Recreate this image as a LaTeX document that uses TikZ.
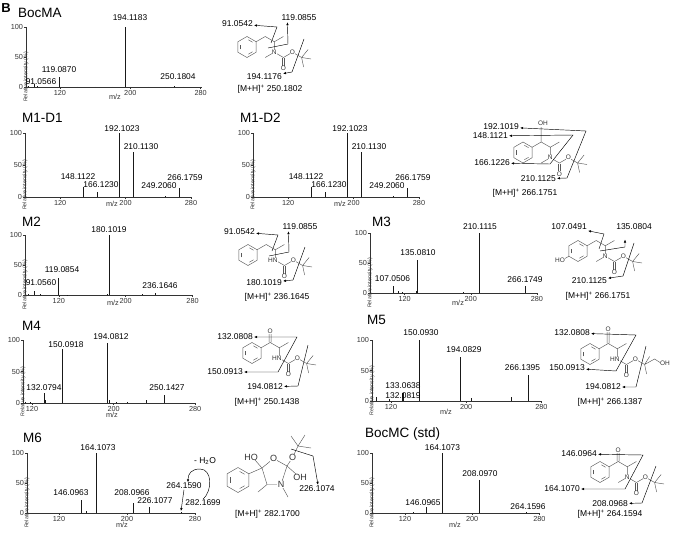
\documentclass[tikz,border=0pt]{standalone}
\usepackage{fontspec}
\setmainfont{Liberation Sans}
\usetikzlibrary{arrows.meta,calc,positioning}
\newcommand{\fsPeak}{\fontsize{8.4}{9}\selectfont}
\newcommand{\fsTick}{\fontsize{7.3}{8}\selectfont}
\newcommand{\fsTitle}{\fontsize{13.5}{14}\selectfont}
\newcommand{\fsAtom}{\fontsize{6.5}{7}\selectfont}
\newcommand{\fsBig}{\fontsize{9}{10}\selectfont}
\newcommand{\fsY}{\fontsize{5.3}{6}\selectfont}
\newcommand{\fsFrag}{\fontsize{8.5}{9}\selectfont}
\tikzset{>={Latex[length=3pt,width=2.4pt]}}
\tikzset{axis/.style={line width=.5pt,black!80},
         peak/.style={line width=.9pt,black!90},
         plbl/.style={font=\fsPeak,inner sep=.5pt},
         ticklbl/.style={font=\fsTick,inner sep=1pt,text=black!80},
         ttl/.style={font=\fsTitle,anchor=west,inner sep=0pt},
         ylbl/.style={font=\fsY,rotate=90,inner sep=0pt,text=black!80},
         bond/.style={line width=.45pt,black!65},
         atom/.style={font=\fsAtom,fill=white,inner sep=.3pt,text=black!80},
         frag/.style={line width=.45pt},
         flbl/.style={font=\fsFrag,inner sep=1pt},
         panel/.style n args={4}{shift={(#1,#2)},x=#3pt,y=#4pt},
         benz/.pic={
           \draw[bond] (30:10.5) -- (90:10.5) -- (150:10.5) -- (210:10.5)
             -- (270:10.5) -- (330:10.5) -- cycle;
           \foreach \a in {30,150,270}
             \draw[bond] ($(\a:8)!.2!(\a+60:8)$) -- ($(\a:8)!.8!(\a+60:8)$);
         },
         carbamate/.pic={
           \draw[bond] (0,0) -- (9.1,5.25) -- (18.2,0) -- (27.3,5.25);
           \draw[bond] (8.1,5.8) -- (8.1,13.8) (10.1,5.8) -- (10.1,13.8);
           \node[atom] (-oc) at (9.1,16.3) {O};
           \node[atom] (-oe) at (18.2,0) {O};
         },
         tbu/.pic={
           \draw[bond] (0,0) -- (6.5,-8) (0,0) -- (9.5,1.5) (0,0) -- (2,9.5);
         }
}
% axes of one spectrum: #1 m/z of the y axis, #2 m/z of the "m/z" text, #3 its drop
\newcommand{\specaxes}[3]{%
  \draw[axis] (#1,100) -- (#1,0) -- (281,0);
  \foreach \t in {0,50,100}
    \draw[axis] (#1,\t) -- ++(-1.8pt,0pt) node[ticklbl,left] (y\t) {\t};
  \foreach \m in {120,200,280}
    \draw[axis] (\m,0) -- ++(0pt,-2pt) node[ticklbl,below] (x\m) {\m};
  \foreach \m in {140,160,180,220,240,260}
    \draw[axis] (\m,0) -- ++(0pt,-1.2pt);
  \node[ylbl,xshift=-20pt] (ylab) at (#1,50) {Relative intensity (\%)};
  \node[ticklbl,yshift=-#3pt] (mz) at (#2,0) {m/z};
}

\begin{document}
\begin{tikzpicture}[x=1pt,y=-1pt]
\useasboundingbox (0,0) rectangle (676,532);

% ---------- spectra ----------
\node[font=\bfseries\fontsize{13}{14}\selectfont,inner sep=0pt] (B) at (6,8) {B};
\node[ttl] (tA) at (18,13) {BocMA};
\begin{scope}[panel={-45.7}{87}{.88}{.6},name prefix=sA-]
  \specaxes{81.5}{182.6}{10}
  \foreach \m/\h in {84/1,91.06/5,95/1,119.09/17,194.12/100,250.18/2}
    \draw[peak] (\m,0) -- (\m,\h);
\end{scope}
\node[plbl] (pA194) at (130,18) {194.1183};
\node[plbl] (pA119) at (59,70) {119.0870};
\node[plbl] (pA91) at (41,82) {91.0566};
\node[plbl] (pA250) at (178,77) {250.1804};

\foreach \dx/\nm/\tx in {0/M1-D1/22,228/M1-D2/12}{
  \begin{scope}[xshift=\dx pt]
    \node[ttl] (t\nm) at (\tx,118) {\nm};
    \begin{scope}[panel={-38.06}{197}{.818}{.64},name prefix=s\nm-]
      \specaxes{77.1}{183.4}{7}
      \foreach \m/\h in {148.11/16,166.12/8,192.10/100,210.11/70,249.21/2,266.18/14}
        \draw[peak] (\m,0) -- (\m,\h);
    \end{scope}
    \node[plbl] (p\nm-192) at (122,129) {192.1023};
    \node[plbl] (p\nm-210) at (141,147) {210.1130};
    \node[plbl] (p\nm-148) at (78,177) {148.1122};
    \node[plbl] (p\nm-166) at (101,185) {166.1230};
    \node[plbl] (p\nm-249) at (159,186) {249.2060};
    \node[plbl] (p\nm-266) at (185,178) {266.1759};
  \end{scope}
}

\node[ttl] (tM2) at (22,222) {M2};
\begin{scope}[panel={-41.52}{295}{.836}{.6},name prefix=sM2-]
  \specaxes{79.6}{184.8}{8}
  \foreach \m/\h in {84/1,91.06/6,97.6/1.5,119.09/28,130/.8,177.6/1.5,180.10/100,219.5/1.5,236.16/3}
    \draw[peak] (\m,0) -- (\m,\h);
\end{scope}
\node[plbl] (pB180) at (109,230) {180.1019};
\node[plbl] (pB119) at (62,270) {119.0854};
\node[plbl] (pB91) at (41,283) {91.0560};
\node[plbl] (pB236) at (160,286) {236.1646};

\node[ttl] (tM3) at (372,222) {M3};
\begin{scope}[panel={305.36}{293}{.827}{.6},name prefix=sM3-]
  \specaxes{78.2}{184.6}{10}
  \foreach \m/\h in {107.05/12,113/3,117/1.5,135.08/55,134/3,191.7/1.5,210.11/100,266.17/11}
    \draw[peak] (\m,0) -- (\m,\h);
\end{scope}
\node[plbl] (pC210) at (480,227) {210.1115};
\node[plbl] (pC135) at (418,253) {135.0810};
\node[plbl] (pC107) at (392.5,279) {107.0506};
\node[plbl] (pC266) at (525,280) {266.1749};

\node[ttl] (tM4) at (22,326) {M4};
\begin{scope}[panel={-90.4}{403}{1.02}{.63},name prefix=sM4-]
  \specaxes{111.2}{198.4}{12}
  \foreach \m/\h in {114/2,118/1,132.08/16,133.5/5,150.09/85,194.08/95,195.5/4,203/2,214/1.5,232.5/5,250.14/13}
    \draw[peak] (\m,0) -- (\m,\h);
\end{scope}
\node[plbl] (pD194) at (111,337) {194.0812};
\node[plbl] (pD150) at (66,345) {150.0918};
\node[plbl] (pD132) at (44,388) {132.0794};
\node[plbl] (pD250) at (167,388) {250.1427};

\node[ttl] (tM5) at (367,320) {M5};
\begin{scope}[panel={278.2}{401}{.94}{.61},name prefix=sM5-]
  \specaxes{99.8}{178.5}{11}
  \foreach \m/\h in {104/6,118/4,150.09/100,194.08/72,206/5,248/7}
    \draw[peak] (\m,0) -- (\m,\h);
  \draw[peak,line width=1.6pt] (132.5,0) -- (132.5,13);
  \draw[peak,line width=1.4pt] (266.1,0) -- (266.1,43);
\end{scope}
\node[plbl] (pE150) at (421,333) {150.0930};
\node[plbl] (pE194) at (464,350) {194.0829};
\node[plbl] (pE266) at (522.5,368) {266.1395};
\node[plbl] (pE133) at (403,386) {133.0638};
\node[plbl] (pE132) at (403,396) {132.0819};

\node[ttl] (tM6) at (23,438) {M6};
\begin{scope}[panel={-43}{513}{.85}{.6},name prefix=sM6-]
  \specaxes{82.4}{194}{12}
  \foreach \m/\h in {146.10/22,152/3,164.11/100,208.10/17,226.11/10,264.16/2}
    \draw[peak] (\m,0) -- (\m,\h);
\end{scope}
\node[plbl] (pF164) at (98,448) {164.1073};
\node[plbl] (pF146) at (71,493) {146.0963};
\node[plbl] (pF208) at (132,493) {208.0966};
\node[plbl] (pF226) at (155,501) {226.1077};
\node[plbl] (pF264) at (184,486) {264.1590};
\node[plbl] (pF282) at (203,503) {282.1699};
\node[flbl] (pFh2o) at (205,461) {- H\textsubscript{2}O};
\coordinate (pF264t) at (181,511);
\draw[frag,->] (pF264.south) -- (pF264t);
\draw[frag,->] (pF282.north) .. controls (213,490) and (212,469) .. (200,469)
  .. controls (191,469) and (188,474) .. ([xshift=4pt]pF264.north);

\node[ttl] (tG) at (365,434) {BocMC (std)};
\begin{scope}[panel={304.2}{513}{.84}{.6},name prefix=sG-]
  \specaxes{80.7}{179.5}{12}
  \foreach \m/\h in {130/1,146.10/10,164.11/100,208.10/55,264.16/1.5}
    \draw[peak] (\m,0) -- (\m,\h);
\end{scope}
\node[plbl] (pG164) at (442.5,448) {164.1073};
\node[plbl] (pG208) at (480,474) {208.0970};
\node[plbl] (pG146) at (423,503) {146.0965};
\node[plbl] (pG264) at (528,507) {264.1596};

% ---------- structures ----------
% BocMA
\pic (a-ring) at (247,47) {benz};
\draw[bond] (256.1,41.75) -- (265.2,36.5) -- (274.3,41.75) -- (283.4,36.5)
  (274.3,41.75) -- (274.3,52.25) -- (265.2,57.5);
\pic (a-boc) at (274.3,52.25) {carbamate};
\pic (a-tbu) at (301.6,57.5) {tbu};
\node[atom] (a-n) at (274.3,52.25) {N};
\node[flbl,anchor=east] (a-f91) at (254,24) {91.0542};
\node[flbl] (a-f119) at (299,18) {119.0855};
\node[flbl,anchor=east] (a-f194) at (283,77) {194.1176};
\node[flbl] (a-mh) at (270,89) {[M+H]\textsuperscript{+} 250.1802};
\draw[frag,->] (271,43) -- (277,27) -- (a-f91);
\draw[frag,->] (268,48) -- (288,44) -- ([xshift=7pt]a-f119.south west);
\draw[frag,->] (304,39) -- (292,72) -- (a-f194);

% M1-D2
\pic (h-ring) at (523,152.5) {benz};
\draw[bond] (532.1,147.25) -- (541.2,142) -- (550.3,147.25) -- (559.4,142)
  (541.2,142) -- (541.2,127) (550.3,147.25) -- (550.3,157.75) -- (541.2,163);
\pic (h-boc) at (550.3,157.75) {carbamate};
\pic (h-tbu) at (577.6,163) {tbu};
\node[atom] (h-n) at (550.3,157.75) {N};
\node[atom] (h-oh) at (543,123.5) {OH};
\node[flbl,anchor=east] (h-f192) at (520,127) {192.1019};
\node[flbl,anchor=east] (h-f148) at (509,136) {148.1121};
\node[flbl,anchor=east] (h-f166) at (511,163) {166.1226};
\node[flbl,anchor=east] (h-f210) at (557,179) {210.1125};
\node[flbl] (h-mh) at (525,193) {[M+H]\textsuperscript{+} 266.1751};
\draw[frag,<->] (h-f192) -- (586,131) -- (567,178) -- (h-f210);
\draw[frag,<->] (h-f148) -- (573,135) -- (550,164) -- (h-f166);

% M2
\pic (b-ring) at (248,255) {benz};
\draw[bond] (257.1,249.75) -- (266.2,244.5) -- (275.3,249.75) -- (284.4,244.5)
  (275.3,249.75) -- (275.3,260.25);
\pic (b-boc) at (275.3,260.25) {carbamate};
\pic (b-tbu) at (302.6,265.5) {tbu};
\node[atom] (b-n) at (272.8,260.25) {HN};
\node[flbl,anchor=east] (b-f91) at (256,232) {91.0542};
\node[flbl] (b-f119) at (300,227) {119.0855};
\node[flbl,anchor=east] (b-f180) at (283,283) {180.1019};
\node[flbl] (b-mh) at (277,297) {[M+H]\textsuperscript{+} 236.1645};
\draw[frag,->] (272,251) -- (278,235) -- (b-f91);
\draw[frag,->] (269,256) -- (289,252) -- ([xshift=7pt]b-f119.south west);
\draw[frag,->] (305,247) -- (293,280) -- (b-f180);

% M3
\pic (c-ring) at (578,251) {benz};
\draw[bond] (587.1,245.75) -- (596.2,240.5) -- (605.3,245.75) -- (614.4,240.5)
  (605.3,245.75) -- (605.3,256.25) -- (596.2,261.5) (568.9,256.25) -- (564,259);
\pic (c-boc) at (605.3,256.25) {carbamate};
\pic (c-tbu) at (632.6,261.5) {tbu};
\node[atom] (c-n) at (605.3,256.25) {N};
\node[atom] (c-ho) at (560,260.5) {HO};
\node[flbl,anchor=east] (c-f107) at (588,227) {107.0491};
\node[flbl] (c-f135) at (634,227) {135.0804};
\coordinate (c-t135) at (625,239.5);
\node[flbl,anchor=east] (c-f210) at (608,281) {210.1125};
\node[flbl] (c-mh) at (598,296) {[M+H]\textsuperscript{+} 266.1751};
\draw[frag,->] (599,249) -- (604,234) -- (c-f107);
\draw[frag,->] (600,251) -- (625,247) -- (c-t135);
\draw[frag,->] (634,243) -- (623,276) -- (c-f210);

% M4
\pic (d-ring) at (252,353) {benz};
\draw[bond] (261.1,347.75) -- (270.2,342.5) -- (279.3,347.75) -- (288.4,342.5)
  (279.3,347.75) -- (279.3,358.25)
  (269.2,342) -- (269.2,334) (271.2,342) -- (271.2,334);
\pic (d-boc) at (279.3,358.25) {carbamate};
\pic (d-tbu) at (306.6,363.5) {tbu};
\node[atom] (d-o) at (270.2,331) {O};
\node[atom] (d-n) at (276.8,358.25) {HN};
\node[flbl,anchor=east] (d-f132) at (254,337) {132.0808};
\node[flbl,anchor=east] (d-f150) at (244,372) {150.0913};
\node[flbl,anchor=east] (d-f194) at (284,387) {194.0812};
\node[flbl] (d-mh) at (267,402) {[M+H]\textsuperscript{+} 250.1438};
\draw[frag,<->] (d-f132) -- (297,337) -- (278,372) -- (d-f150);
\draw[frag,->] (308,345) -- (298,386) -- (d-f194);

% M5
\pic (e-ring) at (590,354) {benz};
\draw[bond] (599.1,348.75) -- (608.2,343.5) -- (617.3,348.75) -- (626.4,343.5)
  (617.3,348.75) -- (617.3,359.25)
  (607.2,343) -- (607.2,332) (609.2,343) -- (609.2,332);
\pic (e-boc) at (617.3,359.25) {carbamate};
\draw[bond] (644.6,364.5) -- (649.6,356.5) (644.6,364.5) -- (646.6,374)
  (644.6,364.5) -- (654.6,359) -- (660,362.5);
\node[atom] (e-o) at (608.2,329) {O};
\node[atom] (e-n) at (614.8,359.25) {HN};
\node[atom] (e-oh) at (665,363.5) {OH};
\node[flbl,anchor=east] (e-f132) at (591,333) {132.0808};
\node[flbl,anchor=east] (e-f150) at (586,368) {150.0913};
\node[flbl,anchor=east] (e-f194) at (622,387) {194.0812};
\node[flbl] (e-mh) at (610,402) {[M+H]\textsuperscript{+} 266.1387};
\draw[frag,<->] (e-f132) -- (636,335) -- (616,371) -- (e-f150);
\draw[frag,->] (646,346) -- (636,387) -- (e-f194);

% M6
\pic[scale=1.19] (f-ring) at (238,480) {benz};
\draw[bond] (248.8,473.75) -- (262,468);
\draw[bond] (262,468) -- (273.5,458.5) -- (287,466) -- (281,484.5) -- (267,484.5) -- cycle;
\draw[bond] (262,468) -- (255,460) (267,484.5) -- (258,492) (281,484.5) -- (288,497)
  (287,466) -- (296,474) (287,466) -- (292.5,457.5) -- (298,446)
  (298,446) -- (291,436) (298,446) -- (305,435) (298,446) -- (311,448);
\node[atom,font=\fsBig] (f-ho) at (251,457) {HO};
\node[atom,font=\fsBig] (f-o1) at (273.5,458.5) {O};
\node[atom,font=\fsBig] (f-n3) at (281,484.5) {N};
\node[atom,font=\fsBig] (f-o2) at (292.5,457.5) {O};
\node[atom,font=\fsBig] (f-oh) at (300,477) {OH};
\node[flbl] (f-f226) at (317,489) {226.1074};
\node[flbl] (f-mh) at (267.5,514) {[M+H]\textsuperscript{+} 282.1700};
\draw[frag,->] (291,449) -- (313,456) -- ([xshift=1pt]f-f226.north);

% BocMC
\pic (g-ring) at (600,472) {benz};
\draw[bond] (609.1,466.75) -- (618.2,461.5) -- (627.3,466.75) -- (636.4,461.5)
  (627.3,466.75) -- (627.3,477.25) -- (618.2,482.5)
  (617.2,461) -- (617.2,453) (619.2,461) -- (619.2,453);
\pic (g-boc) at (627.3,477.25) {carbamate};
\pic (g-tbu) at (654.6,482.5) {tbu};
\node[atom] (g-o) at (618.2,450) {O};
\node[atom] (g-n) at (627.3,477.25) {N};
\node[flbl,anchor=east] (g-f146) at (598,454) {146.0964};
\node[flbl,anchor=east] (g-f164) at (581,489) {164.1070};
\node[flbl,anchor=east] (g-f208) at (629,504) {208.0968};
\node[flbl] (g-mh) at (610,514) {[M+H]\textsuperscript{+} 264.1594};
\draw[frag,<->] (g-f146) -- (643,455) -- (625,489) -- (g-f164);
\draw[frag,->] (656,466) -- (642,503) -- (g-f208);

\end{tikzpicture}
\end{document}
